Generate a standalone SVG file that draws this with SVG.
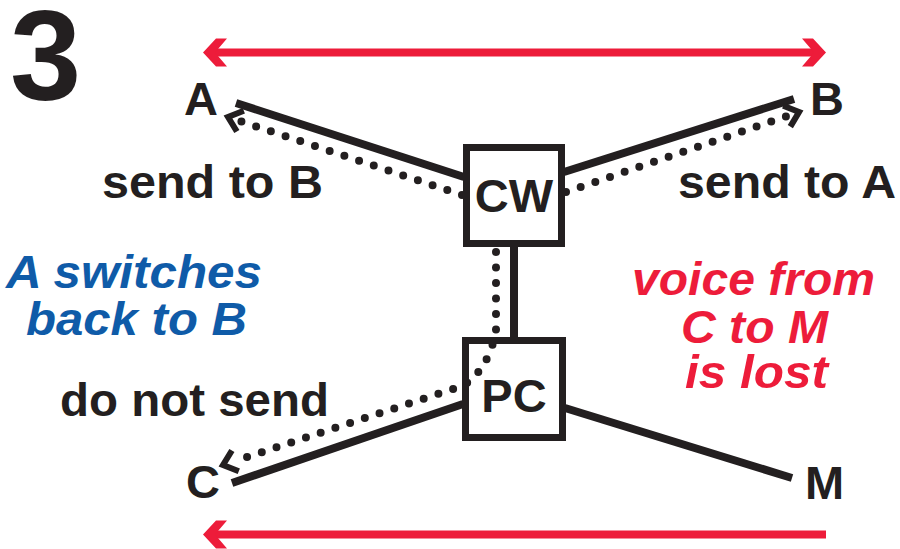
<svg xmlns="http://www.w3.org/2000/svg" width="900" height="549" viewBox="0 0 900 549">
<defs>
<style>
.k{fill:#231f20;font-family:"Liberation Sans",Arial,sans-serif;font-weight:bold;font-size:47px}
.bl{fill:#0f5ba8;font-family:"Liberation Sans",Arial,sans-serif;font-weight:bold;font-style:italic;font-size:46px}
.rd{fill:#ed1c3a;font-family:"Liberation Sans",Arial,sans-serif;font-weight:bold;font-style:italic;font-size:47px}
.solid{stroke:#231f20;stroke-width:8;fill:none}
.dot{stroke:#231f20;stroke-width:8;fill:none;stroke-linecap:round;stroke-dasharray:0 15.5}
.box{fill:none;stroke:#231f20;stroke-width:7}
.redline{stroke:#ed1c3a;stroke-width:8;fill:none}
</style>
<marker id="chev" markerUnits="userSpaceOnUse" viewBox="-20 -16 40 32" refX="0" refY="0" markerWidth="40" markerHeight="32" orient="auto" overflow="visible">
<path d="M-1,-11 L12,0 L-1,11" fill="none" stroke="#231f20" stroke-width="6"/>
</marker>
</defs>

<text class="k" x="10" y="100" style="font-size:128px">3</text>

<g id="redarrows">
<line class="redline" x1="212" y1="52.5" x2="817" y2="52.5"/>
<polygon fill="#ed1c3a" points="203,52.5 216,38.5 227,38.5 215,52.5 227,66.5 216,66.5"/>
<polygon fill="#ed1c3a" points="826,52.5 813,38.5 802,38.5 814,52.5 802,66.5 813,66.5"/>
<line class="redline" x1="212" y1="534.5" x2="826" y2="534.5"/>
<polygon fill="#ed1c3a" points="203,534.5 216,520.5 227,520.5 215,534.5 227,548.5 216,548.5"/>
</g>

<g id="connectors">
<line class="solid" x1="236" y1="103" x2="464" y2="177"/>
<line class="solid" x1="564" y1="172" x2="794" y2="99"/>
<line class="solid" x1="514" y1="246" x2="514" y2="338"/>
<line class="solid" x1="232" y1="483" x2="463" y2="404"/>
<line class="solid" x1="565" y1="408" x2="792" y2="478"/>
<path class="dot" d="M462,195 L239.4,120.8" marker-end="url(#chev)"/>
<path class="dot" d="M566,192 L787.7,115.9" marker-end="url(#chev)"/>
<path class="dot" d="M496,252 L496,332 Q487,372 462,386 L234.4,461.2" marker-end="url(#chev)"/>
</g>

<g id="CW">
<rect class="box" x="466.5" y="147.5" width="95" height="96"/>
<text class="k" x="514" y="212" text-anchor="middle">CW</text>
</g>
<g id="PC">
<rect class="box" x="465.5" y="340.5" width="97" height="97"/>
<text class="k" x="514" y="412" text-anchor="middle">PC</text>
</g>

<g id="A"><text class="k" x="184" y="115">A</text></g>
<g id="B"><text class="k" x="810" y="115">B</text></g>
<g id="C"><text class="k" x="186" y="498">C</text></g>
<g id="M"><text class="k" x="805" y="499">M</text></g>

<text class="k" x="102" y="198" textLength="221" lengthAdjust="spacingAndGlyphs">send to B</text>
<text class="k" x="678" y="198" textLength="218" lengthAdjust="spacingAndGlyphs">send to A</text>
<text class="k" x="60" y="416" textLength="269" lengthAdjust="spacingAndGlyphs">do not send</text>

<text class="bl" x="6" y="288" textLength="256" lengthAdjust="spacingAndGlyphs">A switches</text>
<text class="bl" x="26" y="335" textLength="221" lengthAdjust="spacingAndGlyphs">back to B</text>

<text class="rd" x="632" y="295" textLength="243" lengthAdjust="spacingAndGlyphs">voice from</text>
<text class="rd" x="681" y="343" textLength="147" lengthAdjust="spacingAndGlyphs">C to M</text>
<text class="rd" x="685" y="388" textLength="143" lengthAdjust="spacingAndGlyphs">is lost</text>
</svg>
